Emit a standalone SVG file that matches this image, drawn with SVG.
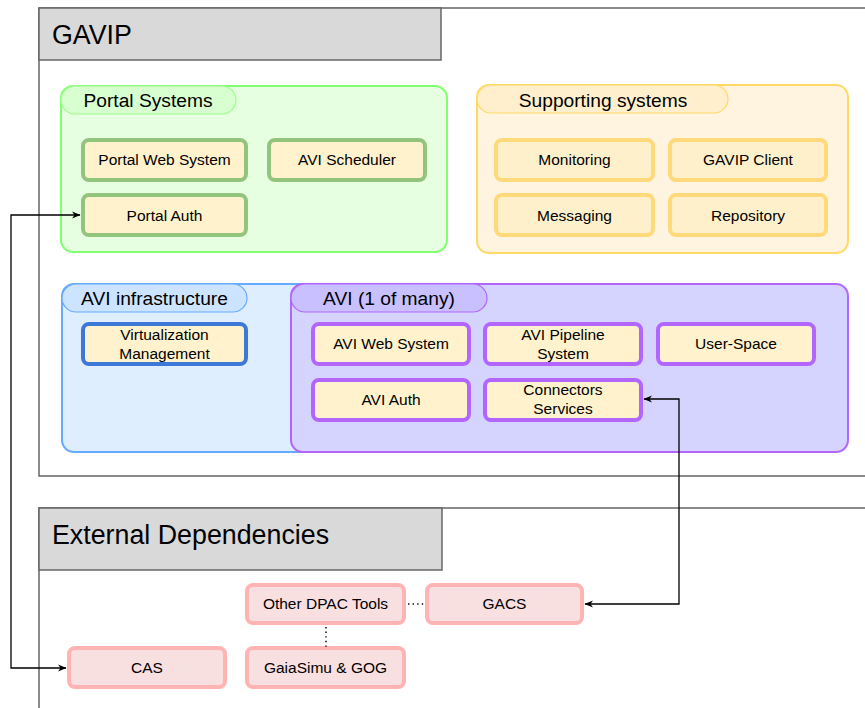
<svg xmlns="http://www.w3.org/2000/svg" width="865" height="708" viewBox="0 0 865 708">
<style>
text{font-family:"Liberation Sans",Arial,sans-serif;fill:#000}
.frame{fill:none;stroke:#666;stroke-width:1.5}
.ttl{fill:#d9d9d9;stroke:#666;stroke-width:1.5}
.big{font-size:26.8px}
.tab{font-size:19.2px;text-anchor:middle}
.nt{font-size:15.5px;text-anchor:middle}
.n{stroke-width:4}
.pg{fill:#fff2cc;stroke:#93c47d}
.sy{fill:#fff0cc;stroke:#ffd97a}
.vb{fill:#fff2cc;stroke:#3c78d8}
.pu{fill:#fff2cc;stroke:#b266ff}
.rd{fill:#f8dfe0;stroke:#ffb3b3}
.conn{fill:none;stroke:#000;stroke-width:1.3}
.dot{fill:none;stroke:#000;stroke-width:1.4;stroke-dasharray:1.4 3.2}
</style>
<defs>
<marker id="arr" markerUnits="userSpaceOnUse" markerWidth="10" markerHeight="10" refX="8" refY="5" orient="auto-start-reverse" viewBox="0 0 10 10">
<path d="M0,1.5 L8.5,5 L0,8.5 L2.5,5 Z" fill="#000"/>
</marker>
</defs>
<g id="gavip-frame">
<path class="frame" d="M865,8 H39 V476 H865"/>
<rect class="ttl" x="39" y="8" width="402" height="52"/>
<text class="big" x="52" y="44">GAVIP</text>
</g>
<g id="portal-systems">
<rect x="61" y="86" width="386" height="166" rx="12" fill="#e6ffe0" stroke="#80ff70" stroke-width="2"/>
<rect x="61" y="86" width="175" height="28" rx="14" fill="#d8ffcf" stroke="#99ff88" stroke-width="1.2"/>
<text class="tab" x="148" y="107">Portal Systems</text>
</g>
<g id="portal-web-system"><rect class="n pg" x="83" y="140" width="163" height="40" rx="6"/><text class="nt" x="164.5" y="165">Portal Web System</text></g>
<g id="avi-scheduler"><rect class="n pg" x="269" y="140" width="156" height="40" rx="6"/><text class="nt" x="347" y="165">AVI Scheduler</text></g>
<g id="portal-auth"><rect class="n pg" x="83" y="195" width="163" height="40" rx="6"/><text class="nt" x="164.5" y="221">Portal Auth</text></g>
<g id="supporting-systems">
<rect x="477" y="85" width="371" height="168" rx="12" fill="#fff4e0" stroke="#ffd966" stroke-width="2"/>
<rect x="477" y="85" width="251" height="28" rx="14" fill="#ffefcc" stroke="#ffd966" stroke-width="1.2"/>
<text class="tab" x="603" y="107">Supporting systems</text>
</g>
<g id="monitoring"><rect class="n sy" x="496" y="140" width="157" height="40" rx="6"/><text class="nt" x="574.5" y="165">Monitoring</text></g>
<g id="gavip-client"><rect class="n sy" x="670" y="140" width="156" height="40" rx="6"/><text class="nt" x="748" y="165">GAVIP Client</text></g>
<g id="messaging"><rect class="n sy" x="496" y="195" width="157" height="40" rx="6"/><text class="nt" x="574.5" y="221">Messaging</text></g>
<g id="repository"><rect class="n sy" x="670" y="195" width="156" height="40" rx="6"/><text class="nt" x="748" y="221">Repository</text></g>
<g id="avi-infrastructure">
<rect x="62" y="284" width="500" height="168" rx="12" fill="#dfeeff" stroke="#66aaff" stroke-width="2"/>
<rect x="62" y="284" width="185" height="28" rx="14" fill="#cce4ff" stroke="#66aaff" stroke-width="1.2"/>
<text class="tab" x="154.5" y="305">AVI infrastructure</text>
</g>
<g id="virtualization-management"><rect class="n vb" x="83" y="324" width="163" height="40" rx="6"/><text class="nt" x="164.5" y="340">Virtualization</text><text class="nt" x="164.5" y="359">Management</text></g>
<g id="avi">
<rect x="291" y="284" width="557" height="168" rx="12" fill="#d4d4ff" stroke="#b266ff" stroke-width="2"/>
<rect x="291" y="284" width="196" height="28" rx="14" fill="#c9c0ff" stroke="#b266ff" stroke-width="1.2"/>
<text class="tab" x="389" y="305">AVI (1 of many)</text>
</g>
<g id="avi-web-system"><rect class="n pu" x="313" y="324" width="156" height="40" rx="6"/><text class="nt" x="391" y="349">AVI Web System</text></g>
<g id="avi-pipeline-system"><rect class="n pu" x="485" y="324" width="156" height="40" rx="6"/><text class="nt" x="563" y="340">AVI Pipeline</text><text class="nt" x="563" y="359">System</text></g>
<g id="user-space"><rect class="n pu" x="658" y="324" width="156" height="40" rx="6"/><text class="nt" x="736" y="349">User-Space</text></g>
<g id="avi-auth"><rect class="n pu" x="313" y="380" width="156" height="40" rx="6"/><text class="nt" x="391" y="405">AVI Auth</text></g>
<g id="connectors-services"><rect class="n pu" x="485" y="380" width="156" height="40" rx="6"/><text class="nt" x="563" y="395">Connectors</text><text class="nt" x="563" y="414">Services</text></g>
<g id="external-frame">
<path class="frame" d="M865,508 H39 V708"/>
<rect class="ttl" x="39" y="508" width="403" height="62"/>
<text class="big" x="52" y="544">External Dependencies</text>
</g>
<g id="other-dpac-tools"><rect class="n rd" x="247" y="585" width="157" height="38" rx="6"/><text class="nt" x="325.5" y="609">Other DPAC Tools</text></g>
<g id="gacs"><rect class="n rd" x="427" y="585" width="155" height="38" rx="6"/><text class="nt" x="504.5" y="609">GACS</text></g>
<g id="cas"><rect class="n rd" x="69" y="648" width="156" height="39" rx="6"/><text class="nt" x="147" y="673">CAS</text></g>
<g id="gaiasimu-gog"><rect class="n rd" x="247" y="648" width="157" height="39" rx="6"/><text class="nt" x="325.5" y="673">GaiaSimu &amp; GOG</text></g>
<g id="connectors">
<path class="conn" d="M80,215 H11 V668 H66" marker-start="url(#arr)" marker-end="url(#arr)"/>
<path class="conn" d="M644,399 H679 V604 H585" marker-start="url(#arr)" marker-end="url(#arr)"/>
<path class="dot" d="M408,604 H425"/>
<path class="dot" d="M326,627 V647"/>
</g>
</svg>
